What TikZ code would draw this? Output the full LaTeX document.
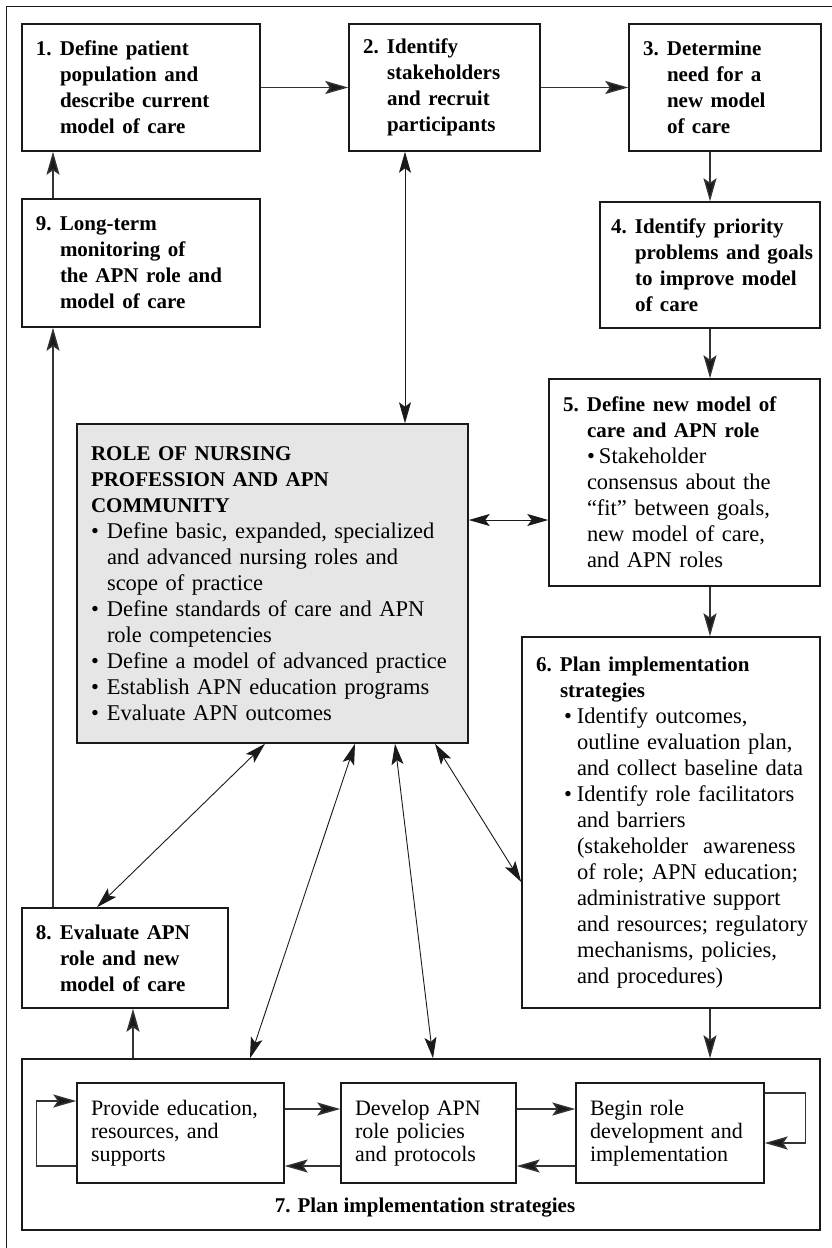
\documentclass[tikz,border=0pt]{standalone}
\usepackage{fontspec}
\setmainfont{Liberation Serif}
\usepackage{tikz}
\usetikzlibrary{positioning,arrows.meta,calc}
\definecolor{ink}{HTML}{1A1A1A}
\definecolor{wire}{HTML}{333333}
\definecolor{panel}{HTML}{E6E6E6}

\newcommand{\bodyfont}{\fontsize{22.5}{26}\selectfont}
\newcommand{\headfont}{\fontsize{21}{26}\selectfont\bfseries}
\newcommand{\stepnum}[2]{{\headfont\leftskip=9pt\hangindent=24pt\hangafter=1\makebox[24pt][l]{#1}#2\par}}
\newcommand{\bul}[1]{{\leftskip=9pt\hangindent=16pt\hangafter=1\makebox[16pt][l]{\textbullet}#1\par}}
\newcommand{\subbul}[1]{{\leftskip=37pt\hangindent=13pt\hangafter=1\makebox[13pt][l]{\textbullet}#1\par}}

\begin{document}
\begin{tikzpicture}[x=1pt, y=-1pt,
    fwd/.style={-{Stealth[length=23pt,width=13pt,inset=4.5pt,fill=ink]}},
    twoway/.style={{Stealth[length=21pt,width=12pt,inset=4.5pt,fill=ink]}-{Stealth[length=21pt,width=12pt,inset=4.5pt,fill=ink]}},
    stepbox/.style={draw=ink, line width=1.5pt, inner xsep=5pt, inner ysep=3pt, align=left, font=\bodyfont},
    subbox/.style={draw=ink, line width=1.4pt, inner xsep=14pt, inner ysep=3pt, align=left, font=\fontsize{22}{23}\selectfont},
    link/.style={draw=wire, line width=1.4pt},
    spoke/.style={draw=ink, line width=0.9pt}]
  \useasboundingbox (0,0) rectangle (832,1248);
  \draw[ink, line width=1pt] (6,1248) -- (6,6) -- (832,6);

  % steps around the ring
  \node[stepbox, text width=228pt, minimum height=127pt] (b1) at (141,87.5) {\stepnum{1.}{Define patient\newline population and\newline describe current\newline model of care}};
  \node[stepbox, text width=181pt, minimum height=127pt] (b2) at (444.5,87.5) {\stepnum{2.}{Identify\newline stakeholders\newline and recruit\newline participants}};
  \node[stepbox, text width=182pt, minimum height=127pt] (b3) at (725,87.5) {\stepnum{3.}{Determine\newline need for a\newline new model\newline of care}};
  \node[stepbox, inner xsep=2pt, text width=216pt, minimum height=126pt] (b4) at (710,265) {\stepnum{4.}{Identify priority\newline problems~and~goals\newline to improve model\newline of care}};
  \node[stepbox, text width=228pt, minimum height=128pt] (b9) at (141,263) {\stepnum{9.}{Long-term\newline monitoring of\newline the APN role and\newline model of care}};
  \node[stepbox, text width=261pt, minimum height=207pt] (b5) at (684.5,482.5) {\stepnum{5.}{Define new model of\newline care and APN role}%
    {\leftskip=33pt\makebox[12pt][l]{\textbullet}Stakeholder\newline consensus about the\newline ``fit'' between goals,\newline new model of care,\newline and APN roles\par}};
  \node[stepbox, fill=panel, text width=381pt, minimum height=319pt] (role) at (272.5,583.5) {%
    {\headfont\leftskip=9pt ROLE OF NURSING\newline PROFESSION AND APN\newline COMMUNITY\par}%
    \bul{Define basic, expanded, specialized\newline and advanced nursing roles and\newline scope of practice}%
    \bul{Define standards of care and APN\newline role competencies}%
    \bul{Define a model of advanced practice}%
    \bul{Establish APN education programs}%
    \bul{Evaluate APN outcomes}};
  \node[stepbox, text width=288pt, minimum height=371pt] (b6) at (671,822.5) {\stepnum{6.}{Plan implementation\newline strategies}%
    \subbul{Identify outcomes,\newline outline evaluation plan,\newline and collect baseline data}%
    \subbul{Identify role facilitators\newline and barriers\newline (stakeholder\ \ awareness\newline of role; APN education;\newline administrative support\newline and resources; regulatory\newline mechanisms, policies,\newline and procedures)}};
  \node[stepbox, text width=196pt, minimum height=100pt] (b8) at (125,958) {\stepnum{8.}{Evaluate APN\newline role and new\newline model of care}};

  % step 7 and its cycle
  \node[draw=ink, line width=1.5pt, inner sep=0pt, minimum width=798pt, minimum height=171pt] (b7) at (421,1144.5) {};
  \node[font=\headfont] (b7lbl) at (425,1208) {7. Plan implementation strategies};
  \node[subbox, text width=179pt, minimum height=100pt] (p1) at (180.5,1133) {Provide education,\newline resources, and\newline supports};
  \node[subbox, text width=147pt, minimum height=100pt] (p2) at (428.5,1133) {Develop APN\newline role policies\newline and protocols};
  \node[subbox, text width=160pt, minimum height=100pt] (p3) at (670,1133) {Begin role\newline development and\newline implementation};

  \coordinate (lx) at (53,0);
  \coordinate (vx) at (405,0);
  \coordinate (hy) at (0,520);
  \coordinate (b8x) at (133,0);

  \draw[link,fwd] (b1) -- (b2);
  \draw[link,fwd] (b2) -- (b3);
  \draw[link,fwd] (b4.north |- b3.south) -- (b4.north);
  \draw[link,fwd] (b4.south) -- (b4.south |- b5.north);
  \draw[link,fwd] (b5.south -| b4.south) -- (b6.north -| b4.south);
  \draw[link,fwd] (b6.south -| b4.south) -- (b7.north -| b4.south);
  \draw[link,fwd] (b7.north -| b8x) -- (b8.south -| b8x);
  \draw[link,fwd] (b8.north -| lx) -- (b9.south -| lx);
  \draw[link,fwd] (b9.north -| lx) -- (b1.south -| lx);
  \draw[spoke,twoway] (b2.south -| vx) -- (role.north -| vx);
  \draw[spoke,twoway] (role.east |- hy) -- (b5.west |- hy);

  \draw[spoke,twoway] ([xshift=-7.5pt]role.south) -- ([xshift=-28pt]b8.north);
  \draw[spoke,twoway] ([xshift=82.5pt]role.south) -- ([xshift=-171pt]b7.north);
  \draw[spoke,twoway] ([xshift=122.5pt]role.south) -- ([xshift=12pt]b7.north);
  \draw[spoke,twoway] ([xshift=162.5pt]role.south) -- ([yshift=-59.5pt]b6.west);

  \draw[link,fwd] ([yshift=24pt]p1.east) -- ([yshift=24pt]p2.west);
  \draw[link,fwd] ([yshift=-33pt]p2.west) -- ([yshift=-33pt]p1.east);
  \draw[link,fwd] ([yshift=24pt]p2.east) -- ([yshift=24pt]p3.west);
  \draw[link,fwd] ([yshift=-33pt]p3.west) -- ([yshift=-33pt]p2.east);
  \draw[link,fwd] ([yshift=-33pt]p1.west) -- ++(-40,0) |- ([yshift=32pt]p1.west);
  \draw[link,fwd] ([yshift=40pt]p3.east) -- ++(41,0) |- ([yshift=-10pt]p3.east);
\end{tikzpicture}
\end{document}
